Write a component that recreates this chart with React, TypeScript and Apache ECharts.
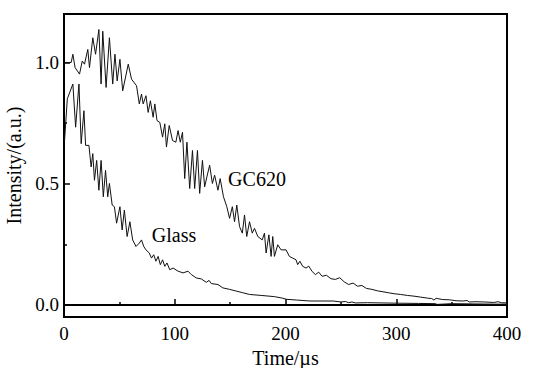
import React, { useEffect, useRef } from "react";
import * as echarts from "echarts";

// GC620 decay curve (time in µs, normalized intensity)
const gcTime = [
  0, 2.5, 6.5, 8, 10, 14, 16.5, 18.5, 21.5, 23, 26, 28.5, 31.5, 33.5, 35, 38, 41, 44, 46, 48,
  50.5, 53, 58, 61, 65.5, 68, 70, 71.5, 74, 76, 78, 80.5, 82, 84, 86.5, 89, 91, 92.5, 95, 98,
  101, 103, 105, 107, 109, 111, 113.5, 116, 118, 120.5, 122.5, 125, 127, 129, 131.5, 134, 136, 139, 141, 144,
  147, 149.5, 152, 154, 156, 158.5, 161, 163, 165, 167.5, 170, 172, 175, 179, 181, 182.5, 185, 187, 188.5, 190,
  193, 196, 200.5, 203.5, 206.5, 209.5, 211, 213, 215.5, 218.5, 221, 224, 227, 230, 233, 237, 241, 245, 249, 253,
  257, 261, 265, 269, 273, 278, 283, 288, 293, 298, 304, 310, 316, 322, 328, 332, 334, 336, 342, 348,
  354, 360, 364, 366, 372, 380, 388, 392, 395, 400,
];
const gcIntensity = [
  1.0, 1.0, 1.0, 1.034, 0.979, 0.952, 1.006, 0.993, 1.054, 0.979, 1.102, 1.034, 1.136, 0.911, 1.129, 0.897, 1.102, 0.911, 1.034, 0.924,
  1.013, 0.883, 0.993, 0.931, 0.904, 0.829, 0.87, 0.829, 0.863, 0.794, 0.842, 0.774, 0.829, 0.76, 0.753, 0.692, 0.747, 0.651, 0.74, 0.678,
  0.671, 0.719, 0.671, 0.712, 0.521, 0.671, 0.48, 0.637, 0.48, 0.637, 0.46, 0.596, 0.487, 0.528, 0.576, 0.501, 0.535, 0.473, 0.521, 0.446,
  0.405, 0.357, 0.405, 0.343, 0.412, 0.323, 0.296, 0.371, 0.282, 0.343, 0.296, 0.316, 0.282, 0.268, 0.296, 0.214, 0.289, 0.2, 0.282, 0.2,
  0.248, 0.227, 0.227, 0.2, 0.193, 0.186, 0.166, 0.18, 0.159, 0.152, 0.16, 0.138, 0.125, 0.135, 0.118, 0.122, 0.108, 0.105, 0.112, 0.095,
  0.084, 0.09, 0.077, 0.08, 0.068, 0.064, 0.058, 0.054, 0.05, 0.046, 0.043, 0.039, 0.036, 0.032, 0.028, 0.026, 0.02, 0.027, 0.022, 0.021,
  0.017, 0.016, 0.018, 0.012, 0.013, 0.012, 0.01, 0.013, 0.009, 0.008,
];

// Glass decay curve
const glassTime = [
  0.5, 3, 8, 10.5, 13.5, 15.5, 18, 19.5, 22.5, 24.5, 26, 27.5, 29.5, 31.5, 33.5, 35.5, 37.5, 39.5, 41, 43.5,
  45.5, 47.5, 50.5, 52.5, 54.5, 57, 59.5, 62, 65, 68, 70, 72, 74, 77, 79, 81, 83, 85, 87, 89,
  91, 93, 95.5, 98.5, 103, 107.5, 112, 115, 119.5, 124, 128.5, 131, 133, 139, 143.5, 149.5, 155.5, 161.5, 167.5, 178,
  190, 197, 201, 210, 222, 243, 250, 254, 257, 260, 263, 274, 300, 320, 335, 337, 350, 370, 390, 400,
];
const glassIntensity = [
  0.678, 0.85, 0.911, 0.733, 0.911, 0.665, 0.801, 0.658, 0.658, 0.569, 0.624, 0.514, 0.596, 0.473, 0.596, 0.446, 0.555, 0.446, 0.501, 0.412,
  0.405, 0.337, 0.405, 0.309, 0.391, 0.282, 0.343, 0.268, 0.241, 0.255, 0.268, 0.241, 0.227, 0.214, 0.193, 0.207, 0.18, 0.2, 0.166, 0.186,
  0.159, 0.173, 0.145, 0.152, 0.139, 0.132, 0.139, 0.125, 0.111, 0.107, 0.093, 0.101, 0.088, 0.084, 0.07, 0.064, 0.057, 0.05, 0.043, 0.039,
  0.034, 0.028, 0.023, 0.02, 0.016, 0.016, 0.012, 0.014, 0.009, 0.012, 0.008, 0.009, 0.007, 0.006, 0.005, 0.002, 0.005, 0.004, 0.003, 0.003,
];

const yMajorTicks = [0, 0.5, 1.0];
const yMinorTicks = [0.25, 0.75];
const curveLabels = ["GC620", "Glass"];

const FONT = "'Liberation Serif', 'Times New Roman', serif";

function zip(xs: number[], ys: number[]) {
  return xs.map((x, i) => [x, ys[i]]);
}

export default function App() {
  const ref = useRef<HTMLDivElement>(null);
  useEffect(() => {
    if (!ref.current) return;
    const chart = echarts.init(ref.current, undefined, { renderer: "svg" });
    const lineStyle = { color: "#111", width: 1 };
    chart.setOption({
      animation: false,
      backgroundColor: "#fff",
      grid: {
        left: 64,
        top: 14,
        right: 29,
        bottom: 51,
        show: true,
        borderColor: "#000",
        borderWidth: 2,
        outerBoundsMode: "none",
      },
      xAxis: {
        type: "value",
        min: 0,
        max: 400,
        interval: 100,
        name: "Time/µs",
        nameLocation: "middle",
        nameGap: 23,
        nameTextStyle: { fontFamily: FONT, fontSize: 20, color: "#000", lineHeight: 20 },
        axisLine: { show: true, lineStyle: { color: "#000", width: 2 } },
        axisTick: { show: true, inside: true, length: 6, lineStyle: { color: "#000", width: 1.5 } },
        minorTick: { show: true, splitNumber: 2, length: 3, lineStyle: { color: "#000", width: 1.5 } },
        axisLabel: { fontFamily: FONT, fontSize: 19, color: "#000", margin: 7 },
        splitLine: { show: false },
      },
      yAxis: [
        {
          type: "value",
          min: -0.05,
          max: 1.2,
          name: "Intensity/(a.u.)",
          nameLocation: "middle",
          nameGap: 39,
          nameTextStyle: { fontFamily: FONT, fontSize: 20, color: "#000" },
          axisLine: { show: true, lineStyle: { color: "#000", width: 2 } },
          axisTick: {
            show: true,
            inside: true,
            length: 6,
            customValues: yMajorTicks,
            lineStyle: { color: "#000", width: 1.5 },
          },
          axisLabel: {
            fontFamily: FONT,
            fontSize: 19,
            color: "#000",
            margin: 5,
            customValues: yMajorTicks,
            formatter: (v: number) => v.toFixed(1),
          },
          splitLine: { show: false },
        },
        {
          type: "value",
          min: -0.05,
          max: 1.2,
          position: "left",
          offset: 0,
          axisLine: { show: false },
          axisTick: {
            show: true,
            inside: true,
            length: 3,
            customValues: yMinorTicks,
            lineStyle: { color: "#000", width: 1.5 },
          },
          axisLabel: { show: false },
          splitLine: { show: false },
        },
      ],
      series: [
        {
          name: curveLabels[0],
          type: "line",
          data: zip(gcTime, gcIntensity),
          showSymbol: false,
          symbol: "none",
          lineStyle,
          z: 3,
        },
        {
          name: curveLabels[1],
          type: "line",
          data: zip(glassTime, glassIntensity),
          showSymbol: false,
          symbol: "none",
          lineStyle,
          z: 3,
        },
      ],
      graphic: [
        {
          type: "text",
          x: 257,
          y: 179,
          style: {
            text: curveLabels[0],
            font: `20px ${FONT}`,
            fill: "#000",
            align: "center",
            verticalAlign: "middle",
          },
        },
        {
          type: "text",
          x: 174,
          y: 235,
          style: {
            text: curveLabels[1],
            font: `20px ${FONT}`,
            fill: "#000",
            align: "center",
            verticalAlign: "middle",
          },
        },
      ],
    });
    return () => chart.dispose();
  }, []);
  return (
    <div
      ref={ref}
      style={{ position: "fixed", left: 0, top: 0, width: 536, height: 368, background: "#fff" }}
    />
  );
}
